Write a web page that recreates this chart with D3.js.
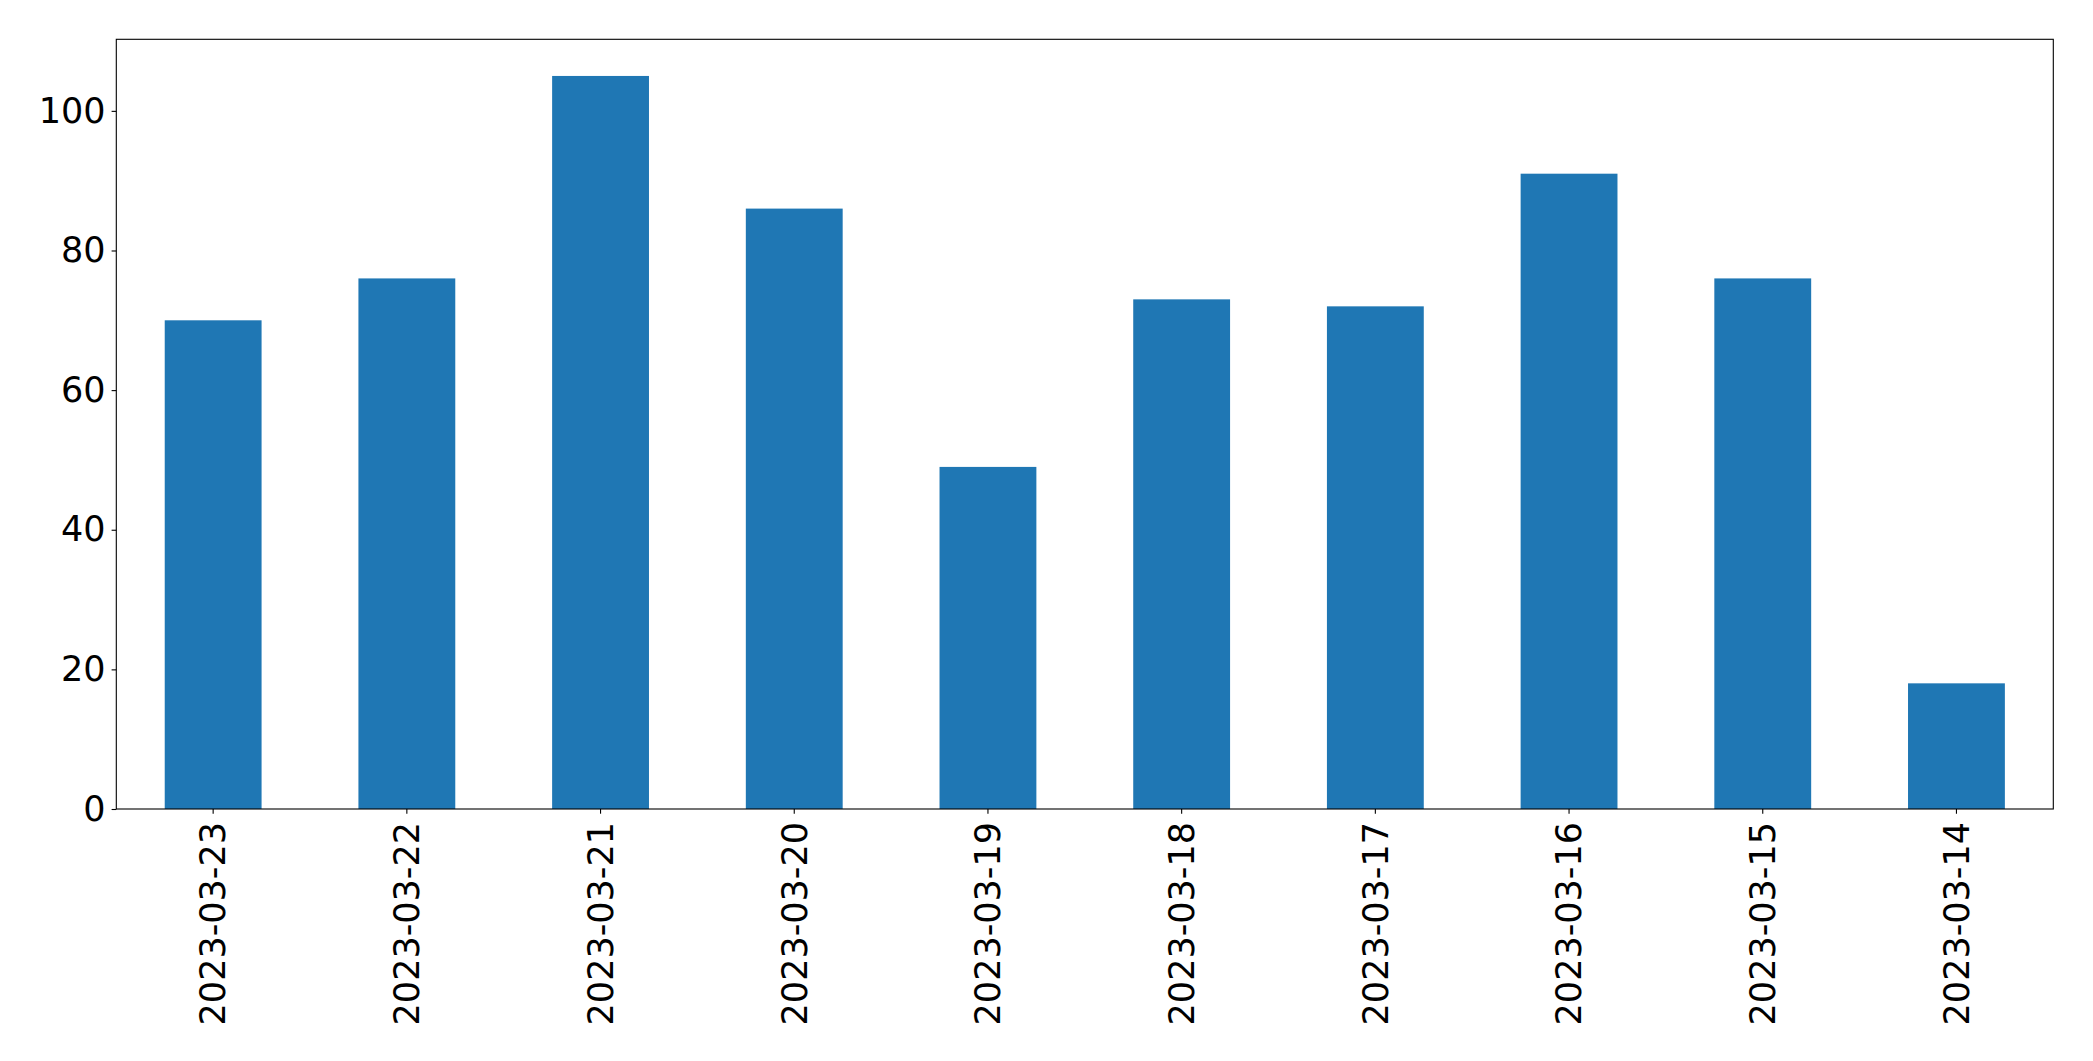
<!DOCTYPE html>
<html>
<head>
<meta charset="utf-8">
<script src="https://cdn.jsdelivr.net/npm/d3@7"></script>
<style>
  html, body { margin: 0; padding: 0; background: #fff; }
  svg { display: block; }
  text { font-family: "DejaVu Sans", sans-serif; fill: #000; }
</style>
</head>
<body>
<svg id="chart" width="2093" height="1061"></svg>
<script>
const categories = ["2023-03-23","2023-03-22","2023-03-21","2023-03-20","2023-03-19","2023-03-18","2023-03-17","2023-03-16","2023-03-15","2023-03-14"];
const values = [70, 76, 105, 86, 49, 73, 72, 91, 76, 18];
const yTicks = [0, 20, 40, 60, 80, 100];

const W = 2093, H = 1061;
const margin = {left: 116.3, right: W - 2053.3, top: 39.3, bottom: H - 809};
const svg = d3.select("#chart");
const g = svg.append("g");

const x = d3.scaleBand().domain(categories)
  .range([margin.left, W - margin.right]).paddingInner(0.5).paddingOuter(0.25);
const yMax = d3.max(values) * 1.05;
const y = d3.scaleLinear().domain([0, yMax]).range([H - margin.bottom, margin.top]);

g.selectAll("rect.bar").data(values).join("rect")
  .attr("class", "bar")
  .attr("x", (d, i) => x(categories[i]))
  .attr("width", x.bandwidth())
  .attr("y", d => y(d))
  .attr("height", d => y(0) - y(d))
  .attr("fill", "#1f77b4");

const fs = 35;
// Y axis
const yAxis = d3.axisLeft(y).tickValues(yTicks).tickSize(4.7).tickPadding(6).tickFormat(d3.format("d"));
const ya = g.append("g").attr("transform", `translate(${margin.left},0)`).call(yAxis);
ya.select(".domain").remove();
ya.selectAll("line").attr("stroke", "#000").attr("stroke-width", 1.1);
ya.selectAll("text").style("font-size", fs + "px").style("font-family", "DejaVu Sans").attr("fill", "#000");

// X axis
const xAxis = d3.axisBottom(x).tickSize(4.7).tickPadding(6);
const xa = g.append("g").attr("transform", `translate(0,${H - margin.bottom})`).call(xAxis);
xa.select(".domain").remove();
xa.selectAll("line").attr("stroke", "#000").attr("stroke-width", 1.1);
xa.selectAll("text")
  .style("font-size", fs + "px").style("font-family", "DejaVu Sans").attr("fill", "#000")
  .attr("transform", "rotate(-90)")
  .attr("text-anchor", "end")
  .attr("x", -13)
  .attr("y", 0)
  .attr("dy", "0.35em");

// Frame
g.append("rect")
  .attr("x", margin.left).attr("y", margin.top)
  .attr("width", W - margin.right - margin.left)
  .attr("height", H - margin.bottom - margin.top)
  .attr("fill", "none").attr("stroke", "#000").attr("stroke-width", 1.1);
</script>
</body>
</html>
